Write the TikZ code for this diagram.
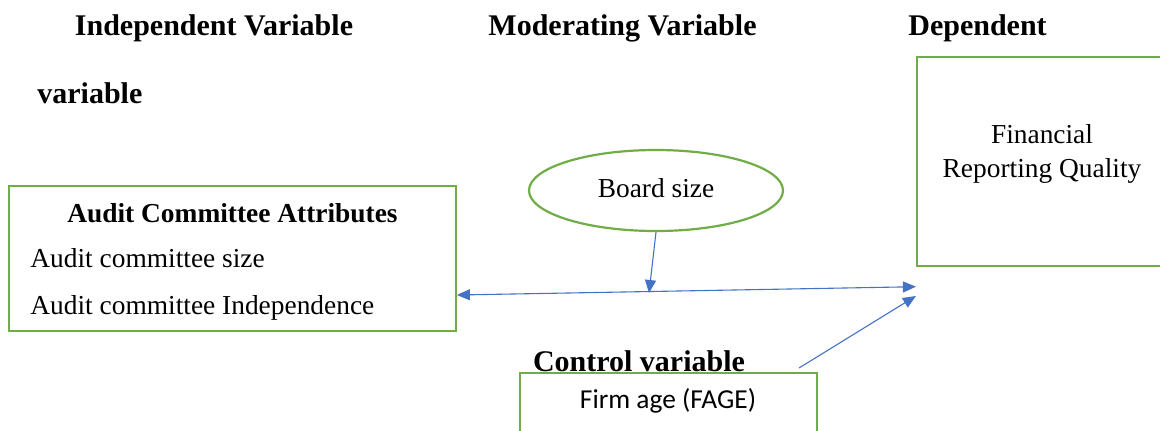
\documentclass[tikz,border=0pt]{standalone}
\usepackage{fontspec}
\setmainfont{Liberation Serif}
\newfontfamily\calfont{Carlito}
\usetikzlibrary{arrows.meta,shapes.geometric,calc}
\definecolor{boxgreen}{HTML}{70AD47}
\definecolor{arrblue}{HTML}{4472C4}
\tikzset{
  headtxt/.style={inner sep=0pt,font=\fontsize{15}{18}\selectfont\bfseries},
  bodytxt/.style={inner sep=0pt,font=\fontsize{13.7}{16}\selectfont},
  gbox/.style={draw=boxgreen,line width=1.1pt,rectangle,inner sep=0pt},
  conn/.style={draw=arrblue,line width=0.55pt,-{Triangle[length=6.5pt,width=5.5pt]}},
  dconn/.style={draw=arrblue,line width=0.55pt,{Triangle[length=6.5pt,width=5.5pt]}-{Triangle[length=6.5pt,width=5.5pt]}}
}
\begin{document}
\begin{tikzpicture}[x=0.5pt,y=-0.5pt]
\clip (0,0) rectangle (1160,430);
\fill[white] (0,0) rectangle (1160,430);
% headings
\node[headtxt,anchor=base] (hind) at (214,35) {Independent Variable};
\node[headtxt,anchor=base] (hmod) at (622.5,35) {Moderating Variable};
\node[headtxt,anchor=base] (hdep) at (977.5,35) {Dependent};
\node[headtxt,anchor=base west] (hvar) at (37,103) {variable};
% boxes
\node[gbox,minimum width=223.4pt,minimum height=72.7pt] (acbox) at (232.4,258.3) {};
\node[gbox,minimum width=129pt,minimum height=104.5pt] (frq) at (1046,161.5) {};
\node[gbox,minimum width=148.5pt,minimum height=38.5pt] (fage) at (668.5,411.5) {};
\node[draw=boxgreen,line width=1.1pt,ellipse,inner sep=0pt,minimum width=127pt,minimum height=40.5pt] (bsize) at (656,190.5) {};
% texts
\node[bodytxt,anchor=base,font=\fontsize{13.7}{16}\selectfont\bfseries] (actitle) at (232.5,222) {Audit Committee Attributes};
\node[bodytxt,anchor=base west] (acsize) at (30,267) {Audit committee size};
\node[bodytxt,anchor=base west] (acind) at (30,314) {Audit committee Independence};
\node[bodytxt,anchor=base] (bstxt) at (656,197) {Board size};
\node[bodytxt,anchor=base] (fin1) at (1042,143) {Financial};
\node[bodytxt,anchor=base] (fin2) at (1042,177) {Reporting Quality};
\node[headtxt,anchor=base] (hctl) at (639,371) {Control variable};
\node[bodytxt,anchor=base,font=\fontsize{13.7}{16}\selectfont\calfont] (fagetxt) at (668,408) {Firm age (FAGE)};
% connector ends
\coordinate (acin) at ($(acbox.east)+(0,36.7)$);
\coordinate (frqin) at ($(frq.west)+(0,125.2)$);
\coordinate (frqin2) at ($(frq.west)+(0,134.5)$);
\coordinate (mid) at (649,293);
\coordinate (ctlstart) at (799,368);
% connectors
\draw[dconn] (acin) -- (frqin);
\draw[conn] (bsize.south) -- (mid);
\draw[conn] (ctlstart) -- (frqin2);
\end{tikzpicture}
\end{document}
